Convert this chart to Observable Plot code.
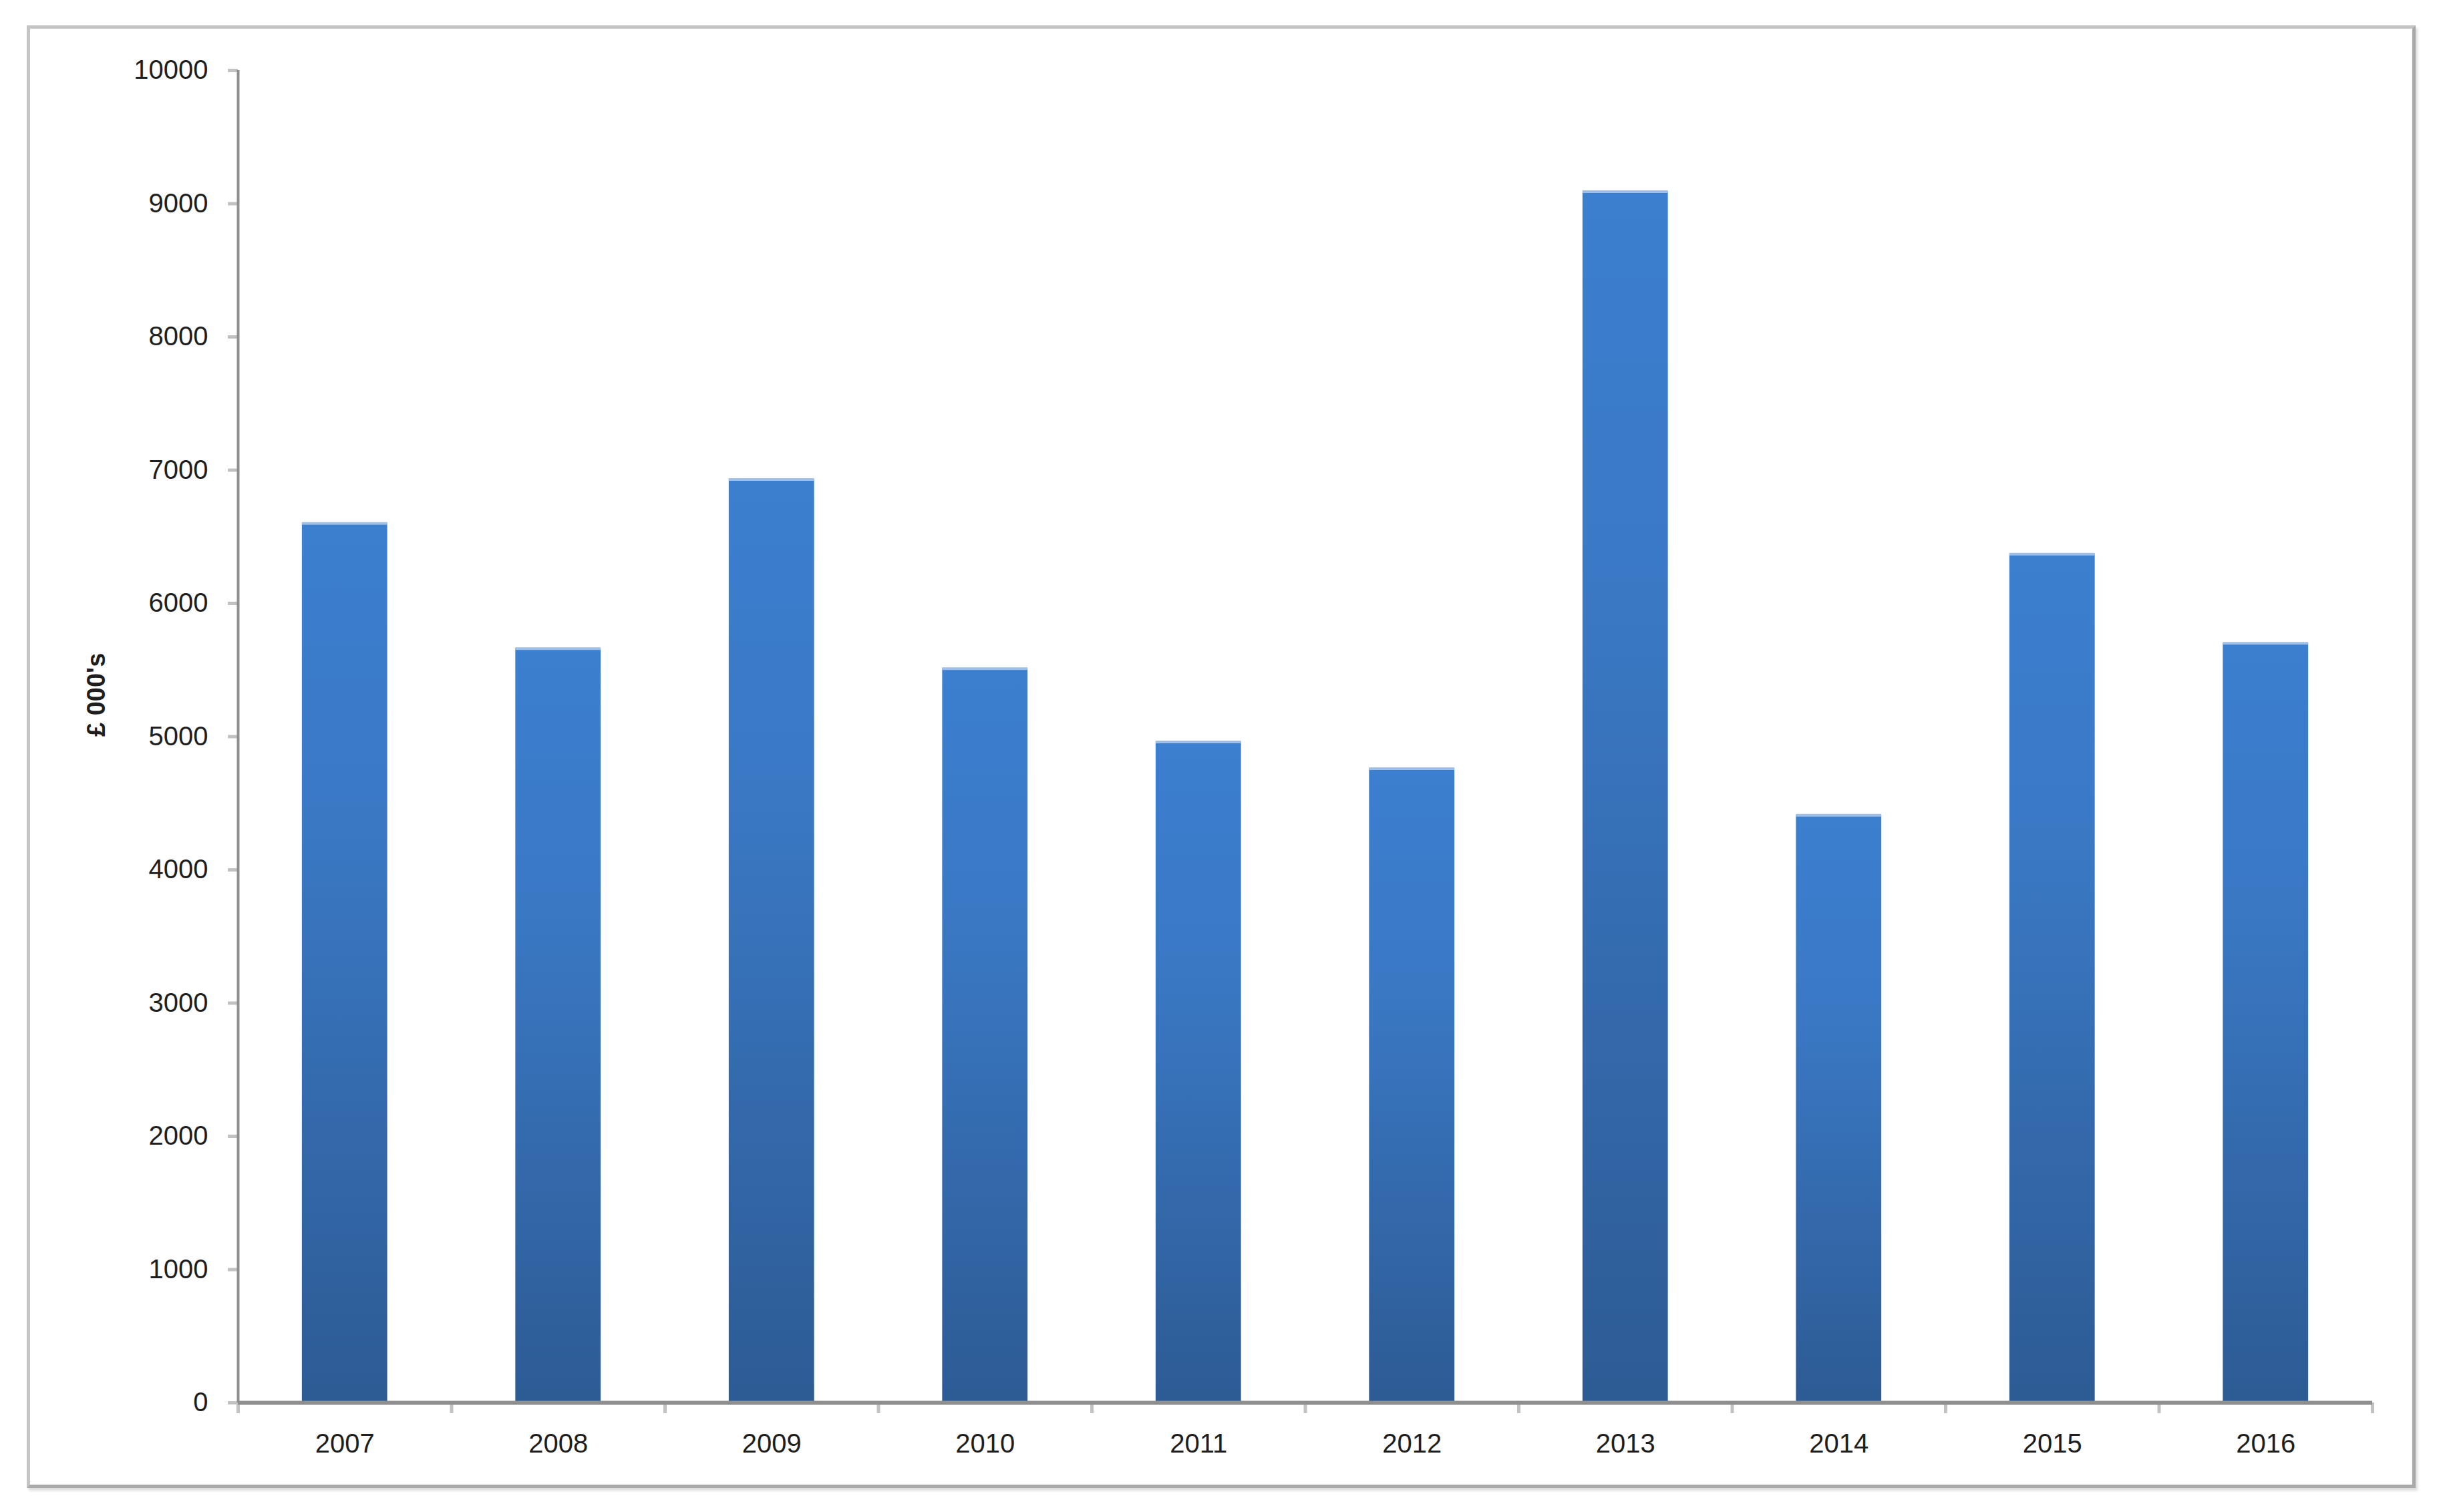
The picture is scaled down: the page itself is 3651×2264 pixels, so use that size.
<!DOCTYPE html>
<html>
<head>
<meta charset="utf-8">
<script src="https://cdn.jsdelivr.net/npm/d3@7"></script>
<script src="https://cdn.jsdelivr.net/npm/@observablehq/plot@0.6"></script>
<style>
  html, body { margin: 0; padding: 0; background: #fff; }
  #wrap { position: relative; width: 3651px; height: 2264px; overflow: hidden; }
  #frame {
    position: absolute; left: 40px; top: 38px; width: 3566px; height: 2180px;
    border-top: 5px solid #c4c4c4; border-left: 5px solid #c4c4c4;
    border-right: 5px solid #a9a9a9; border-bottom: 5px solid #a9a9a9;
    box-shadow: 3px 4px 4px #dcdcdc;
  }
  #chart { position: absolute; left: 0; top: 0; }
</style>
</head>
<body>
<div id="wrap"><div id="frame"></div><div id="chart"></div></div>
<script>
const years  = [2007, 2008, 2009, 2010, 2011, 2012, 2013, 2014, 2015, 2016];
const values = [6600, 5660, 6930, 5510, 4960, 4760, 9090, 4410, 6370, 5700];
const yTicks = [0, 1000, 2000, 3000, 4000, 5000, 6000, 7000, 8000, 9000, 10000];
const yLabel = "£ 000's";

const data = years.map((year, i) => ({year, value: values[i]}));
const half = 0.2;
const xDomain = [years[0] - 0.5, years[years.length - 1] + 0.5];
const bounds = years.map(y => y - 0.5).concat([years[years.length - 1] + 0.5]);

const chart = Plot.plot({
  width: 3651,
  height: 2264,
  marginLeft: 356,
  marginTop: 105,
  marginRight: 100,
  marginBottom: 164,
  style: {fontFamily: "'Liberation Sans', Arial, sans-serif", fontSize: "40px", color: "#1e1e1e", background: "transparent"},
  x: {domain: xDomain, axis: null, label: null},
  y: {domain: [0, 10000], axis: null, label: null},
  marks: [
    Plot.rectY(data, {x1: d => d.year - half, x2: d => d.year + half, y: "value", fill: "url(#barGrad)"}),
    Plot.ruleY(data, {y: "value", x1: d => d.year - half, x2: d => d.year + half, stroke: "#9fbfe8", strokeWidth: 4}),
    Plot.axisY(yTicks, {label: null, tickSize: 15, tickPadding: 30, stroke: "#c2c2c2", strokeWidth: 5, tickFormat: d => String(d)}),
    Plot.axisX(bounds, {label: null, tickSize: 16, stroke: "#c2c2c2", strokeWidth: 5, tickFormat: () => ""}),
    Plot.axisX(years, {label: null, tickSize: 0, tickPadding: 46, tickFormat: d => String(d)}),
    Plot.ruleX([xDomain[0]], {y1: 0, y2: 10000, stroke: "#8f8f8f", strokeWidth: 4}),
    Plot.ruleY([0], {stroke: "#8f8f8f", strokeWidth: 6}),
    Plot.text([yLabel], {frameAnchor: "left", rotate: -90, dx: -212, fontWeight: "bold", fontSize: 38, fill: "#1e1e1e"})
  ]
});

const defs = d3.select(chart).insert("defs", ":first-child");
const g = defs.append("linearGradient").attr("id", "barGrad").attr("x1", 0).attr("y1", 0).attr("x2", 0).attr("y2", 1);
g.append("stop").attr("offset", "0%").attr("stop-color", "#3b7fcf");
g.append("stop").attr("offset", "35%").attr("stop-color", "#3a78c4");
g.append("stop").attr("offset", "100%").attr("stop-color", "#2d5b94");

document.getElementById("chart").appendChild(chart);
</script>
</body>
</html>
